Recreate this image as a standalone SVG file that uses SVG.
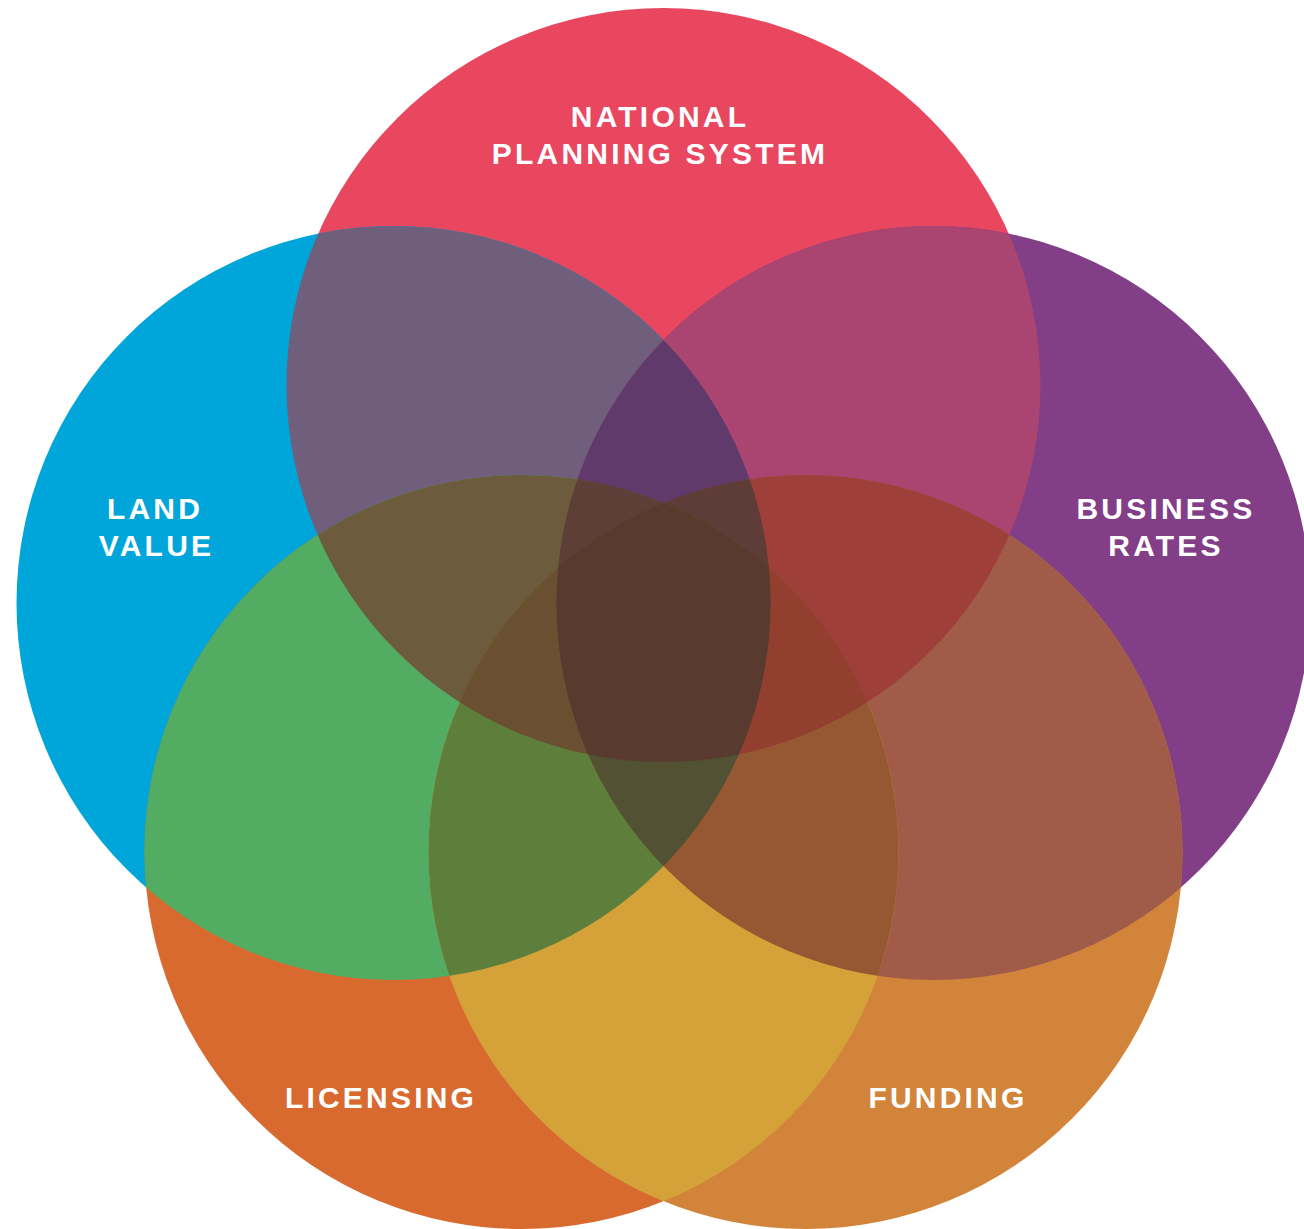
<svg xmlns="http://www.w3.org/2000/svg" xmlns:xlink="http://www.w3.org/1999/xlink" width="1304" height="1229" viewBox="0 0 1304 1229">
<style>
.lbl{font-family:"Liberation Sans",Arial,sans-serif;font-weight:bold;font-size:30px;letter-spacing:3.2px;fill:#ffffff;text-anchor:middle}
</style>
<defs>
<circle id="N" cx="663.5" cy="385" r="377"/>
<circle id="L" cx="393.5" cy="603" r="377"/>
<circle id="B" cx="933.5" cy="603" r="377"/>
<circle id="Li" cx="521.5" cy="852" r="377"/>
<circle id="F" cx="805.5" cy="852" r="377"/>
<clipPath id="cN"><use xlink:href="#N"/></clipPath>
<clipPath id="cL"><use xlink:href="#L"/></clipPath>
<clipPath id="cB"><use xlink:href="#B"/></clipPath>
<clipPath id="cLi"><use xlink:href="#Li"/></clipPath>
<clipPath id="cF"><use xlink:href="#F"/></clipPath>
</defs>
<rect width="1304" height="1229" fill="#ffffff"/>
<g id="node-national"><use xlink:href="#N" fill="#E8475F"/></g>
<g id="node-land-value"><use xlink:href="#L" fill="#00A6D9"/></g>
<g id="node-business-rates"><use xlink:href="#B" fill="#823F87"/></g>
<g id="node-licensing"><use xlink:href="#Li" fill="#D96A2F"/></g>
<g id="node-funding"><use xlink:href="#F" fill="#D1843A"/></g>
<g id="overlaps">
<!-- pairs -->
<g clip-path="url(#cN)"><use xlink:href="#L" fill="#6F5E7C"/></g>
<g clip-path="url(#cN)"><use xlink:href="#B" fill="#AA4470"/></g>
<g clip-path="url(#cL)"><use xlink:href="#Li" fill="#52AD62"/></g>
<g clip-path="url(#cB)"><use xlink:href="#F" fill="#A05C48"/></g>
<g clip-path="url(#cLi)"><use xlink:href="#F" fill="#D4A238"/></g>
<!-- triples -->
<g clip-path="url(#cN)"><g clip-path="url(#cL)"><use xlink:href="#B" fill="#5F3A6A"/></g></g>
<g clip-path="url(#cN)"><g clip-path="url(#cL)"><use xlink:href="#Li" fill="#6C5B3C"/></g></g>
<g clip-path="url(#cN)"><g clip-path="url(#cB)"><use xlink:href="#F" fill="#9F3F3A"/></g></g>
<g clip-path="url(#cL)"><g clip-path="url(#cLi)"><use xlink:href="#F" fill="#5E7E3C"/></g></g>
<g clip-path="url(#cB)"><g clip-path="url(#cLi)"><use xlink:href="#F" fill="#955833"/></g></g>
<!-- quads -->
<g clip-path="url(#cN)"><g clip-path="url(#cL)"><g clip-path="url(#cB)"><use xlink:href="#Li" fill="#5D3F38"/></g></g></g>
<g clip-path="url(#cN)"><g clip-path="url(#cL)"><g clip-path="url(#cB)"><use xlink:href="#F" fill="#5E3D38"/></g></g></g>
<g clip-path="url(#cN)"><g clip-path="url(#cL)"><g clip-path="url(#cLi)"><use xlink:href="#F" fill="#6A4F30"/></g></g></g>
<g clip-path="url(#cN)"><g clip-path="url(#cB)"><g clip-path="url(#cLi)"><use xlink:href="#F" fill="#933F30"/></g></g></g>
<g clip-path="url(#cL)"><g clip-path="url(#cB)"><g clip-path="url(#cLi)"><use xlink:href="#F" fill="#535133"/></g></g></g>
<!-- all five -->
<g clip-path="url(#cN)"><g clip-path="url(#cL)"><g clip-path="url(#cB)"><g clip-path="url(#cLi)"><use xlink:href="#F" fill="#583A2E"/></g></g></g></g>
</g>
<g id="labels">
<text class="lbl" x="660" y="127">NATIONAL</text>
<text class="lbl" x="660" y="164">PLANNING SYSTEM</text>
<text class="lbl" x="155" y="519">LAND</text>
<text class="lbl" x="156.5" y="556">VALUE</text>
<text class="lbl" x="1166" y="519">BUSINESS</text>
<text class="lbl" x="1166" y="556">RATES</text>
<text class="lbl" x="381" y="1108">LICENSING</text>
<text class="lbl" x="948" y="1108">FUNDING</text>
</g>
</svg>
